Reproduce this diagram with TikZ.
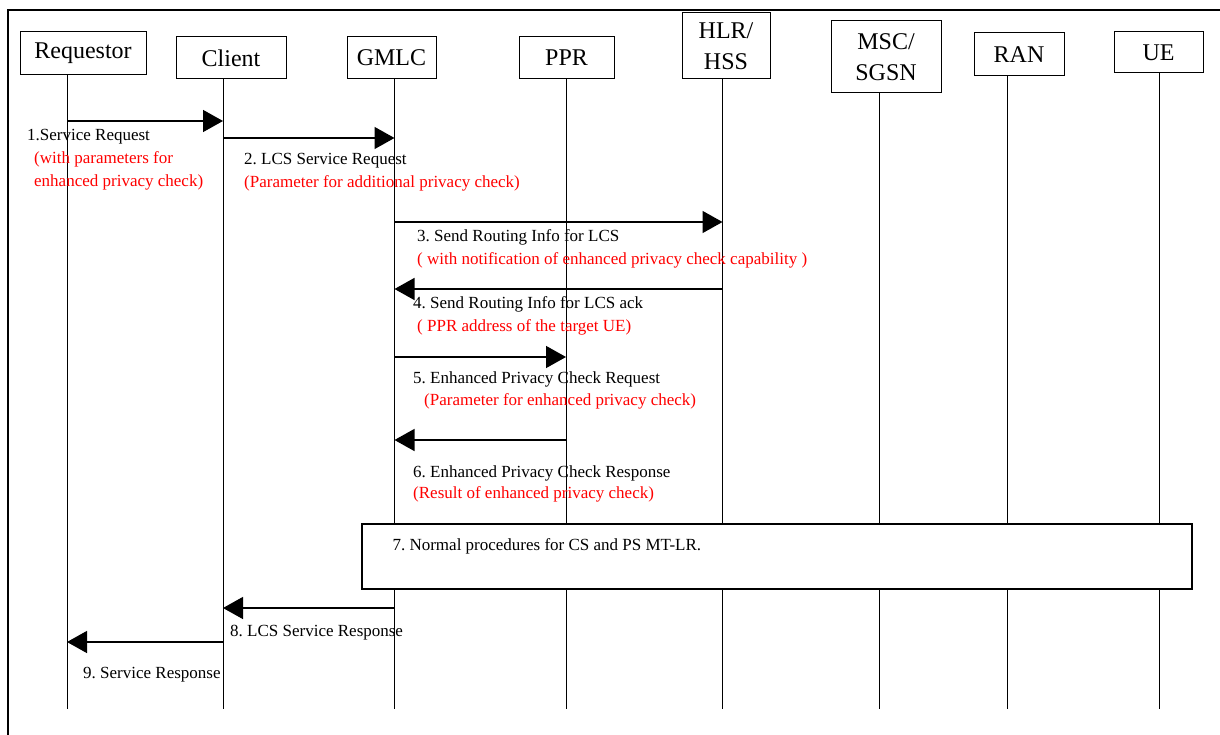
\documentclass[tikz,border=0pt]{standalone}
\usepackage{fontspec}
\setmainfont{Liberation Serif}
\usetikzlibrary{arrows.meta}
\frenchspacing

\begin{document}
\begin{tikzpicture}[x=1pt,y=-1pt]
\tikzstyle{entity}=[rectangle, draw=black, line width=1pt, inner sep=0pt, align=center, font=\fontsize{24}{31}\selectfont]
\tikzstyle{life}=[line width=0.9pt]
\tikzstyle{connect}=[-{Triangle[length=20pt,width=22pt]}, line width=1.4pt]
\tikzstyle{msg}=[anchor=west, inner sep=0pt, align=left, font=\fontsize{17}{23}\selectfont]
\tikzstyle{note}=[msg, text=red]

\useasboundingbox (0,0) rectangle (1220,735);
\draw[line width=2.2pt] (8,10) rectangle (1240,760);

% entities
\node[entity, minimum width=126, minimum height=43] at (83,53.5) (req) {Requestor};
\node[entity, minimum width=110, minimum height=42] at (231,58) (client) {Client};
\node[entity, minimum width=89, minimum height=42] at (391.5,58) (gmlc) {GMLC};
\node[entity, minimum width=95, minimum height=42] at (566.5,58) (ppr) {PPR};
\node[entity, minimum width=88, minimum height=66] at (726,46) (hlr) {HLR/\\HSS};
\node[entity, minimum width=110, minimum height=72] at (886,57) (msc) {MSC/\\SGSN};
\node[entity, minimum width=90, minimum height=43] at (1019,54.5) (ran) {RAN};
\node[entity, minimum width=89, minimum height=41] at (1158.5,52.5) (ue) {UE};

% lifelines
\coordinate (reqlife) at (67,709);
\coordinate (clientlife) at (223,709);
\coordinate (gmlclife) at (394.5,709);
\coordinate (pprlife) at (566,709);
\coordinate (hlrlife) at (722.5,709);
\coordinate (msclife) at (879,709);
\coordinate (ranlife) at (1007,709);
\coordinate (uelife) at (1159,709);
\draw[life] (req.south -| reqlife) -- (reqlife);
\draw[life] (client.south -| clientlife) -- (clientlife);
\draw[life] (gmlc.south -| gmlclife) -- (gmlclife);
\draw[life] (ppr.south -| pprlife) -- (pprlife);
\draw[life] (hlr.south -| hlrlife) -- (hlrlife);
\draw[life] (msc.south -| msclife) -- (msclife);
\draw[life] (ran.south -| ranlife) -- (ranlife);
\draw[life] (ue.south -| uelife) -- (uelife);

% messages
\path (reqlife |- 0,121) edge [connect] (clientlife |- 0,121);
\path (clientlife |- 0,138) edge [connect] (gmlclife |- 0,138);
\path (gmlclife |- 0,222) edge [connect] (hlrlife |- 0,222);
\path (hlrlife |- 0,289) edge [connect] (gmlclife |- 0,289);
\path (gmlclife |- 0,357) edge [connect] (pprlife |- 0,357);
\path (pprlife |- 0,440) edge [connect] (gmlclife |- 0,440);
\path (gmlclife |- 0,608) edge [connect] (clientlife |- 0,608);
\path (clientlife |- 0,642) edge [connect] (reqlife |- 0,642);

\node[msg] at (27,137) (lab1) {1.Service Request};
\node[note] at (34,170.5) (note1) {(with parameters for\\enhanced privacy check)};
\node[msg] at (244,161) (lab2) {2. LCS Service Request};
\node[note] at (244,183) (note2) {(Parameter for additional privacy check)};
\node[msg] at (417,237) (lab3) {3. Send Routing Info for LCS};
\node[note] at (417,260) (note3) {( with notification of enhanced privacy check capability )};
\node[msg] at (413,304) (lab4) {4. Send Routing Info for LCS ack};
\node[note] at (417,327) (note4) {( PPR address of the target UE)};
\node[msg] at (413,379) (lab5) {5. Enhanced Privacy Check Request};
\node[note] at (424,401) (note5) {(Parameter for enhanced privacy check)};
\node[msg] at (413,473) (lab6) {6. Enhanced Privacy Check Response};
\node[note] at (413,494) (note6) {(Result of enhanced privacy check)};
\node[msg] at (230,633) (lab8) {8. LCS Service Response};
\node[msg] at (83,675) (lab9) {9. Service Response};

% procedure box
\node[rectangle, draw=black, fill=white, line width=1.3pt, minimum width=830, minimum height=65, inner sep=0pt] at (777,556.5) (proc) {};
\node[msg] at ([xshift=31pt,yshift=-23pt]proc.north west) (lab7) {7. Normal procedures for CS and PS MT-LR.};
\end{tikzpicture}
\end{document}
